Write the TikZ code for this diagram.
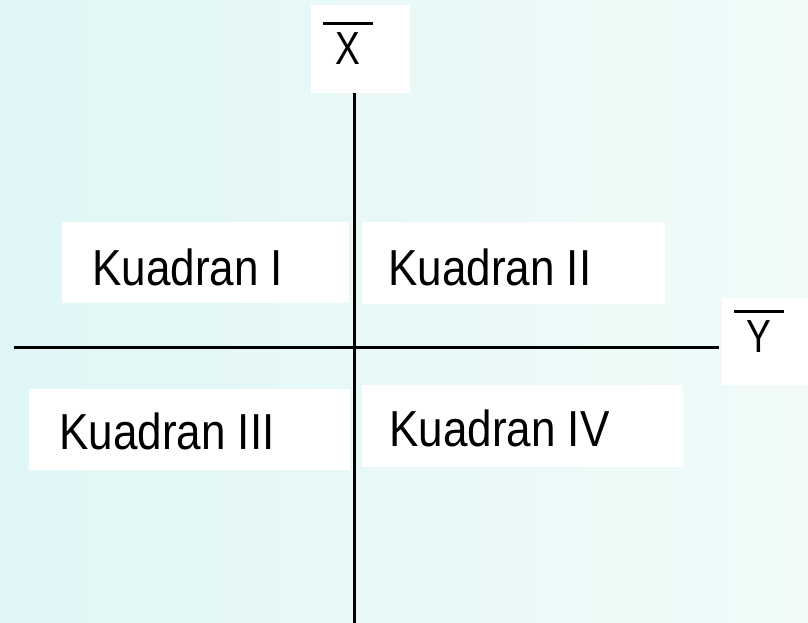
\documentclass[tikz,border=0pt]{standalone}
\usepackage{fontspec}
\setmainfont{Liberation Sans}
\usepackage{graphicx}
\usepackage{tikz}
\usetikzlibrary{positioning,fit}

\definecolor{bgleft}{RGB}{224,246,246}
\definecolor{bgright}{RGB}{240,251,249}

\newcommand{\kuad}[1]{\fontsize{36pt}{40pt}\selectfont\scalebox{0.87}[1]{#1}}
\newcommand{\barlbl}[1]{\vbox{\hrule width 1.25cm height 0.075cm \vskip 0.19cm
  \hbox to 1.25cm{\hfil\fontsize{33pt}{36pt}\selectfont\scalebox{0.8}[1]{#1}\hfil}}}

\begin{document}
\begin{tikzpicture}[
      x=0.025cm, y=-0.025cm,
      box/.style={rectangle, fill=white, inner sep=0pt},
      lbl/.style={anchor=base west, inner sep=0pt},
      barnode/.style={anchor=north west, inner sep=0pt},
      axis/.style={line width=0.075cm}
  ]
  % Background
  \useasboundingbox (0,0) rectangle (808,623);
  \shade[left color=bgleft, right color=bgright] (0,0) rectangle (808,623);
  % Boxes
  \node[box, fit={(311,5) (410,93)}] (xbox) {};
  \node[box, fit={(722,298) (808,385)}] (ybox) {};
  \node[box, fit={(62,222) (349,303)}] (boxI) {};
  \node[box, fit={(362,222) (665,304)}] (boxII) {};
  \node[box, fit={(29,389) (350,470)}] (boxIII) {};
  \node[box, fit={(362,385) (683,467)}] (boxIV) {};
  % Labels
  \node[barnode] (xlbl) at (323,21.5) {\barlbl{X}};
  \node[barnode] (ylbl) at (734,309.5) {\barlbl{Y}};
  \node[lbl] (txtI) at (92,285) {\kuad{Kuadran I}};
  \node[lbl] (txtII) at (388,285) {\kuad{Kuadran II}};
  \node[lbl] (txtIII) at (59,449) {\kuad{Kuadran III}};
  \node[lbl] (txtIV) at (389,446) {\kuad{Kuadran IV}};
  % Axes
  \coordinate (vtop) at (354,93);
  \coordinate (vbot) at (354,623);
  \coordinate (hleft) at (14,347);
  \coordinate (hright) at (719,347);
  \draw[axis] (vtop) -- (vbot);
  \draw[axis] (hleft) -- (hright);
\end{tikzpicture}
\end{document}
